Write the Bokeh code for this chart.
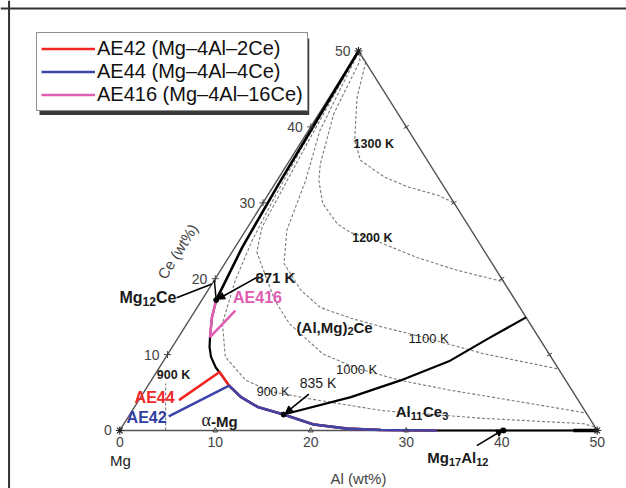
import numpy as np
from bokeh.plotting import figure
from bokeh.models import Span, Legend, LegendItem, ColumnDataSource, Arrow, NormalHead
from bokeh.core.properties import value
from bokeh.embed import file_html
from bokeh.resources import INLINE

FONT = "Liberation Sans"
SERIF = "Liberation Serif"

# ---------------- data: compositions as (Al wt%, Ce wt%) ----------------
tick_vals = [0, 10, 20, 30, 40, 50]
tick_labels = ["0", "10", "20", "30", "40", "50"]
inner_ticks = [10, 20, 30, 40]

tri_al = [0, 50, 0, 0]
tri_ce = [0, 0, 50, 0]

# alpha-Mg / (Al,Mg)2Ce boundary (871 K point down to the Mg-Al side)
bnd_al = [1.5, 2.2, 3.3, 3.9, 4.7, 5.9, 6.8, 8.5, 10.5, 12.9, 16.1, 19.9, 23.7, 27.3, 33.2]
bnd_ce = [17.2, 14.9, 12.3, 11.0, 9.7, 8.3, 7.5, 5.9, 4.4, 3.1, 2.1, 0.8, 0.25, 0.07, 0.0]
# Mg12Ce boundary (871 K point up to Ce-rich corner)
up_al = [1.5, 0.75, 0.4, 0.2, 0.0]
up_ce = [17.2, 24.2, 32.5, 41.3, 50.0]
# tie from Mg12Ce to 871 K point
tie_al = [0.0, 1.5]
tie_ce = [19.8, 17.2]
# (Al,Mg)2Ce / Al11Ce3 boundary from 835 K point
eut_al = [16.1, 22.0, 26.1, 30.0, 32.7, 35.1]
eut_ce = [2.1, 4.4, 6.6, 9.2, 12.3, 14.9]
# Mg-Al binary side
bin_al = [33.2, 50.0]
bin_ce = [0.0, 0.0]
bin2_al = [47.5, 50.0]
bin2_ce = [0.0, 0.0]

# solidification paths
ae44_al = [4.2, 6.6, 6.8, 8.5, 10.5, 12.9, 16.1, 19.9, 23.7, 27.3, 33.2]
ae44_ce = [4.0, 7.7, 7.5, 5.9, 4.4, 3.1, 2.1, 0.8, 0.25, 0.07, 0.0]
ae42_al = [4.2, 8.5, 10.5, 12.9, 16.1, 19.9, 23.7, 27.3, 33.2]
ae42_ce = [1.85, 5.9, 4.4, 3.1, 2.1, 0.8, 0.25, 0.07, 0.0]
ae416_al = [4.2, 3.3, 2.2, 1.5]
ae416_ce = [15.8, 12.3, 14.9, 17.2]

# liquidus isotherms
iso1300_al = [0.3, 1.5, 2.9, 4.9, 5.5, 7.4, 11.0, 14.1, 17.8, 20.0]
iso1300_ce = [49.6, 48.5, 43.9, 39.5, 38.2, 35.6, 33.4, 32.1, 31.0, 30.0]
iso1200_al = [0.2, 0.8, 1.55, 3.45, 4.4, 6.3, 9.2, 11.1, 13.6, 19.7, 24.8, 30.4]
iso1200_ce = [49.7, 48.7, 41.7, 35.1, 32.9, 29.9, 27.2, 26.1, 25.3, 22.8, 21.1, 19.6]
iso1100_al = [0.1, 0.5, 1.2, 3.0, 4.3, 6.2, 9.7, 12.9, 16.8, 20.8, 26.3, 33.1, 41.9]
iso1100_ce = [49.8, 46.0, 39.5, 32.9, 26.4, 22.0, 18.5, 16.2, 14.8, 13.6, 12.1, 10.1, 8.1]
iso1000_al = [0.05, 0.3, 0.7, 1.2, 1.5, 2.6, 4.9, 7.7, 10.7, 16.2, 20.7, 26.1, 32.0, 43.6, 47.7]
iso1000_ce = [49.9, 45.0, 38.0, 31.0, 26.8, 23.5, 20.6, 17.1, 14.1, 10.1, 8.2, 6.6, 5.3, 3.1, 2.3]
iso900_al = [0.03, 0.25, 0.45, 0.9, 1.35, 2.2, 3.7, 6.2, 9.9, 13.4, 18.7, 26.3, 37.3, 48.1, 49.4]
iso900_ce = [49.9, 44.0, 37.0, 30.0, 25.0, 19.8, 14.1, 9.7, 6.6, 5.1, 4.0, 2.6, 1.6, 0.9, 0.5]
iso900mg_al = [4.8, 1.7]
iso900mg_ce = [0.0, 6.2]

# invariant points
pt_al = [1.5, 16.1, 40.2]
pt_ce = [17.2, 2.1, 0.0]

# arrows (start -> end)
arr_al0 = [4.3, 17.4, 38.4]
arr_ce0 = [20.2, 4.8, -2.0]
arr_al1 = [1.6, 16.2, 40.1]
arr_ce1 = [17.3, 2.3, 0.1]
lead_al = [-2.8, 0.0]
lead_ce = [17.5, 19.3]

# compound / phase labels: (text, subscript?) pieces
comp_parts = [
    [("Mg", 0), ("12", 1), ("Ce", 0)],
    [("(Al,Mg)", 0), ("2", 1), ("Ce", 0)],
    [("Al", 0), ("11", 1), ("Ce", 0), ("3", 1)],
    [("Mg", 0), ("17", 1), ("Al", 0), ("12", 1)],
]
comp_al = [-5.8, 15.7, 30.4, 37.2]
comp_ce = [17.5, 13.6, 2.5, -3.6]
comp_size = [16, 15, 15, 15]

bold_text = ["871 K"]
bold_al = [6.2]
bold_ce = [20.2]

alpha_al = [10.0]
alpha_ce = [1.2]

iso_text = ["1300 K", "1200 K", "1100 K", "1000 K", "900 K", "900 K", "835 K"]
iso_al = [7.7, 13.8, 26.3, 20.8, 13.5, 2.0, 17.6]
iso_ce = [37.8, 25.3, 12.1, 8.0, 5.1, 7.25, 6.3]

alloy_text = ["AE44", "AE42", "AE416"]
alloy_al = [1.47, 1.95, 5.66]
alloy_ce = [4.35, 1.71, 17.52]
alloy_colors = ["#f02828", "#3040a0", "#e05cb0"]

legend_labels = ["AE42 (Mg–4Al–2Ce)", "AE44 (Mg–4Al–4Ce)", "AE416 (Mg–4Al–16Ce)"]

# Arial/Liberation Sans Bold advance widths (em) for composing subscripted labels
BOLD_W = {'M': .833, 'g': .611, 'C': .722, 'e': .556, 'A': .722, 'l': .278, '(': .333,
          ')': .333, ',': .278, '1': .556, '2': .556, '3': .556, '7': .556, '-': .333}


def tx(al, ce):
    al = np.asarray(al, dtype=float)
    ce = np.asarray(ce, dtype=float)
    return al + ce / 2.0, ce


p = figure(width=626, height=488, x_range=(-12.495, 53.069), y_range=(-7.642, 56.653),
           output_backend="svg", toolbar_location=None, min_border=0,
           x_axis_type=None, y_axis_type=None)
p.grid.visible = False
p.outline_line_color = None
p.background_fill_color = "white"
p.border_fill_color = "white"

# outer frame (left and top only, as in the cropped original)
p.add_layout(Span(location=-11.60, dimension="height", line_color="#333333", line_width=2))
p.add_layout(Span(location=55.60, dimension="width", line_color="#333333", line_width=2))

# legend shadow (drawn below the legend box)
p.quad(left=[-8.41], right=[19.84], top=[51.65], bottom=[41.57], fill_color="#3a3a3a",
       line_color=None)

# isotherms
for a_, c_ in [(iso1300_al, iso1300_ce), (iso1200_al, iso1200_ce), (iso1100_al, iso1100_ce),
               (iso1000_al, iso1000_ce), (iso900_al, iso900_ce), (iso900mg_al, iso900mg_ce)]:
    x, y = tx(a_, c_)
    p.line(x, y, line_color="#7a7a7a", line_width=1.1, line_dash="3 2")

# triangle
x, y = tx(tri_al, tri_ce)
p.line(x, y, line_color="#555555", line_width=1.4)

# phase boundaries
for a_, c_, w in [(up_al, up_ce, 2.6), (tie_al, tie_ce, 1.5), (bnd_al, bnd_ce, 2.2),
                  (eut_al, eut_ce, 2.2), (bin_al, bin_ce, 2.2), (bin2_al, bin2_ce, 3.5)]:
    x, y = tx(a_, c_)
    p.line(x, y, line_color="black", line_width=w)

# solidification paths
x, y = tx(ae44_al, ae44_ce)
r_red = p.line(x, y, line_color="#f22525", line_width=2.6)
x, y = tx(ae42_al, ae42_ce)
r_blue = p.line(x, y, line_color="#3d45a8", line_width=2.6)
x, y = tx(ae416_al, ae416_ce)
r_mag = p.line(x, y, line_color="#e05fb5", line_width=2.6)

# ticks
x, y = tx([0] * 4, inner_ticks)
p.scatter(x, y, marker="cross", size=7, line_color="#444444", line_width=1)
x, y = tx(inner_ticks, [0] * 4)
p.scatter(x, y, marker="triangle", size=5, fill_color=None, line_color="#444444", line_width=1)
x, y = tx([50 - t for t in inner_ticks], inner_ticks)
p.scatter(x, y, marker="cross", size=6, line_color="#444444", line_width=1, angle=0.55)
x, y = tx([0, 50, 0], [0, 0, 50])
p.scatter(x, y, marker="asterisk", size=8, line_color="#222222", line_width=1.2)

# tick labels
x, y = tx([0] * 6, tick_vals)
p.text(x, y, text=tick_labels, text_font=value(FONT), text_font_size="14px", text_color="#444444",
       text_align="right", text_baseline="middle", x_offset=-8)
x, y = tx(tick_vals, [0] * 6)
p.text(x, y, text=tick_labels, text_font=value(FONT), text_font_size="14px", text_color="#444444",
       text_align="center", text_baseline="top", y_offset=7)

# axis titles
x, y = tx([2.05], [-3.95])
p.text(x, y, text=["Mg"], text_font=value(FONT), text_font_size="15px", text_color="#222222",
       text_align="center", text_baseline="middle")
x, y = tx([28.16], [-6.32])
p.text(x, y, text=["Al (wt%)"], text_font=value(FONT), text_font_size="15px", text_color="#444444",
       text_align="center", text_baseline="middle")
x, y = tx([-5.75], [23.6])
p.text(x, y, text=["Ce (wt%)"], text_font=value(FONT), text_font_size="15px", text_color="#444444",
       text_align="center", text_baseline="middle", angle=1.009)

# leader lines and arrows
x, y = tx(lead_al, lead_ce)
p.line(x, y, line_color="black", line_width=1.6)
x0, y0 = tx(arr_al0, arr_ce0)
x1, y1 = tx(arr_al1, arr_ce1)
asrc = ColumnDataSource(dict(x0=x0, y0=y0, x1=x1, y1=y1))
p.add_layout(Arrow(source=asrc, x_start="x0", y_start="y0", x_end="x1", y_end="y1",
                   line_color="black", line_width=1.6,
                   end=NormalHead(size=7, fill_color="black", line_color="black")))
x, y = tx(pt_al, pt_ce)
p.scatter(x, y, marker="circle", size=5, fill_color="black", line_color="black")

# compound labels with real subscripts
for parts, a_, c_, base in zip(comp_parts, comp_al, comp_ce, comp_size):
    sub = round(base * 0.72)
    widths = [sum(BOLD_W.get(ch, .6) for ch in t) * (sub if s else base) for t, s in parts]
    off = -sum(widths) / 2.0
    x, y = tx([a_], [c_])
    for (t, s), w in zip(parts, widths):
        p.text(x, y, text=[t], text_font=value(FONT), text_font_size=f"{sub if s else base}px",
               text_font_style="bold", text_color="#1a1a1a", text_align="left",
               text_baseline="middle", x_offset=off, y_offset=(4 if s else 0))
        off += w

x, y = tx(bold_al, bold_ce)
p.text(x, y, text=bold_text, text_font=value(FONT), text_font_size="15px", text_font_style="bold",
       text_color="#1a1a1a", text_align="center", text_baseline="middle")

# alpha-Mg label: serif alpha + bold "-Mg"
x, y = tx(alpha_al, alpha_ce)
p.text(x, y, text=["α"], text_font=value(SERIF), text_font_size="18px",
       text_color="#1a1a1a", text_align="right", text_baseline="middle", x_offset=-10, y_offset=-1)
p.text(x, y, text=["-Mg"], text_font=value(FONT), text_font_size="15px", text_font_style="bold",
       text_color="#1a1a1a", text_align="left", text_baseline="middle", x_offset=-10)

iso_sizes = ["12.5px", "12.5px", "13px", "13px", "12.5px", "12.5px", "14px"]
iso_styles = ["bold", "bold", "normal", "normal", "normal", "bold", "normal"]
for t, a_, c_, s, st in zip(iso_text, iso_al, iso_ce, iso_sizes, iso_styles):
    x, y = tx([a_], [c_])
    p.text(x, y, text=[t], text_font=value(FONT), text_font_size=s, text_font_style=st,
           text_color="#1a1a1a", text_align="center", text_baseline="middle")

x, y = tx(alloy_al, alloy_ce)
p.text(x, y, text=alloy_text, text_font=value(FONT), text_font_size="16px", text_font_style="bold",
       text_color=alloy_colors, text_align="center", text_baseline="middle")

legend = Legend(items=[LegendItem(label=legend_labels[0], renderers=[r_red]),
                       LegendItem(label=legend_labels[1], renderers=[r_blue]),
                       LegendItem(label=legend_labels[2], renderers=[r_mag])],
                location=(36, 377), label_text_font=FONT, label_text_font_size="20px",
                label_text_color="#111111",
                glyph_width=54, glyph_height=23, label_height=23, label_standoff=2,
                padding=4, spacing=0, margin=0, border_line_color="#222222",
                border_line_width=1.5, background_fill_color="white", background_fill_alpha=1)
p.add_layout(legend)

open("out.html", "w").write(file_html(p, INLINE))
